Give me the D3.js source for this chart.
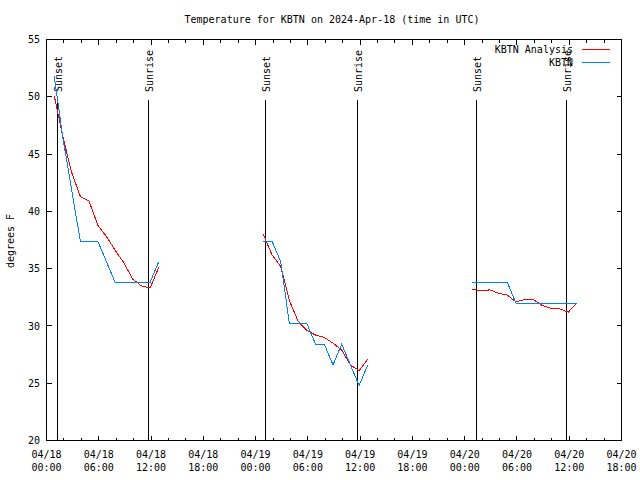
<!DOCTYPE html>
<html><head><meta charset="utf-8">
<script src="https://cdn.jsdelivr.net/npm/d3@7"></script>
<style>
html,body{margin:0;padding:0;background:#fff;}
svg{display:block;}
text{font-family:"DejaVu Sans Mono",monospace;font-size:10px;fill:#000;}
</style></head>
<body><svg id="c" width="640" height="480"></svg>
<script>
// ---- data ----
const title = "Temperature for KBTN on 2024-Apr-18 (time in UTC)";
const yLabel = "degrees F";
const seriesNames = ["KBTN Analysis", "KBTN"];
const segmentStarts = ["2024-04-18T00:53Z", "2024-04-19T00:53Z", "2024-04-20T00:53Z"]; // first hourly point of each block
const analysisSeg1 = [50.1, 46.5, 43.4, 41.3, 40.9, 38.8, 37.8, 36.6, 35.5, 34.1, 33.5, 33.3, 35.1];
const analysisSeg2 = [38.0, 36.2, 35.2, 32.2, 30.4, 29.6, 29.2, 29.0, 28.5, 27.9, 26.6, 26.1, 27.1];
const analysisSeg3 = [33.2, 33.05, 33.15, 32.85, 32.7, 32.1, 32.3, 32.3, 31.8, 31.55, 31.5, 31.2, 32.0];
const obsSeg1 = [51.8, 46.4, 41.9, 37.4, 37.4, 37.4, 35.6, 33.8, 33.8, 33.8, 33.8, 33.8, 35.6];
const obsSeg2 = [37.4, 37.4, 35.6, 30.2, 30.2, 30.2, 28.4, 28.4, 26.6, 28.4, 26.6, 24.8, 26.6];
const obsSeg3 = [33.8, 33.8, 33.8, 33.8, 33.8, 32.0, 32.0, 32.0, 32.0, 32.0, 32.0, 32.0, 32.0];
const sunsetTimes = ["2024-04-18T01:13Z", "2024-04-19T01:11Z", "2024-04-20T01:23Z"];
const sunriseTimes = ["2024-04-18T11:40Z", "2024-04-19T11:40Z", "2024-04-20T11:43Z"];
const xDomain = ["2024-04-18T00:00Z", "2024-04-20T18:00Z"];
const yDomain = [20, 55];
const yTicks = [20, 25, 30, 35, 40, 45, 50, 55];
const colors = ["#ff0000", "#0080ff"];

// ---- chart ----
const svg = d3.select("#c");
const L = 46.5, R = 621.5, T = 39.5, B = 440.5;
const parse = s => new Date(s);
const x = d3.scaleUtc().domain(xDomain.map(parse)).range([L, R]);
const y = d3.scaleLinear().domain(yDomain).range([B, T]);

function build(vals, segIdx) {
  const t0 = parse(segmentStarts[segIdx]);
  return vals.map((v, i) => ({t: d3.utcHour.offset(t0, i), v}));
}
const analysis = [analysisSeg1, analysisSeg2, analysisSeg3].map(build);
const obs = [obsSeg1, obsSeg2, obsSeg3].map(build);

// frame
svg.append("rect").attr("x", L).attr("y", T).attr("width", R - L).attr("height", B - T)
  .attr("fill", "none").attr("stroke", "#000").attr("shape-rendering", "crispEdges");

// x ticks (major every 6h, minor every 2h), on bottom and top
const majorX = d3.utcHour.every(6).range(x.domain()[0], d3.utcHour.offset(x.domain()[1], 1));
const minorX = d3.utcHour.every(2).range(x.domain()[0], d3.utcHour.offset(x.domain()[1], 1));
const tg = svg.append("g").attr("shape-rendering", "crispEdges").attr("stroke", "#000");
minorX.forEach(t => {
  const isMajor = t.getUTCHours() % 6 === 0;
  const len = isMajor ? 5 : 3;
  const px = Math.round(x(t) - 0.5) + 0.5;
  tg.append("line").attr("x1", px).attr("x2", px).attr("y1", B).attr("y2", B - len);
  tg.append("line").attr("x1", px).attr("x2", px).attr("y1", T).attr("y2", T + len);
});
// y ticks left and right
yTicks.forEach(v => {
  const py = Math.round(y(v) - 0.5) + 0.5;
  tg.append("line").attr("x1", L).attr("x2", L + 5).attr("y1", py).attr("y2", py);
  tg.append("line").attr("x1", R).attr("x2", R - 5).attr("y1", py).attr("y2", py);
});

// x tick labels
const fmtD = d3.utcFormat("%m/%d"), fmtT = d3.utcFormat("%H:%M");
const xl = svg.append("g");
majorX.forEach(t => {
  const txt = xl.append("text").attr("text-anchor", "middle");
  txt.append("tspan").attr("x", x(t)).attr("y", 458).text(fmtD(t));
  txt.append("tspan").attr("x", x(t)).attr("y", 471).text(fmtT(t));
});
// y tick labels
yTicks.forEach(v => {
  svg.append("text").attr("x", 40).attr("y", y(v)).attr("dy", "0.36em")
    .attr("text-anchor", "end").text(v);
});

// title & y label
svg.append("text").attr("x", 332).attr("y", 23).attr("text-anchor", "middle").text(title);
svg.append("text").attr("transform", "translate(14,241) rotate(-90)")
  .attr("text-anchor", "middle").text(yLabel);

// sunset / sunrise lines
function marker(ts, label) {
  ts.forEach(s => {
    const px = Math.round(x(parse(s)) - 0.5) + 0.5;
    svg.append("line").attr("x1", px).attr("x2", px).attr("y1", 100).attr("y2", B)
      .attr("stroke", "#000").attr("shape-rendering", "crispEdges");
    svg.append("text").attr("transform", `translate(${px + 4},92) rotate(-90)`)
      .attr("text-anchor", "start").text(label);
  });
}
marker(sunsetTimes, "Sunset");
marker(sunriseTimes, "Sunrise");

// series lines
const line = d3.line().x(d => x(d.t)).y(d => y(d.v));
[analysis, obs].forEach((segs, si) => {
  segs.forEach(seg => {
    svg.append("path").datum(seg).attr("d", line).attr("fill", "none")
      .attr("stroke", colors[si]).attr("stroke-width", 1)
      .attr("shape-rendering", "crispEdges");
  });
});

// legend
seriesNames.forEach((n, i) => {
  const ly = 49 + i * 13;
  svg.append("text").attr("x", 573).attr("y", ly).attr("dy", "0.36em")
    .attr("text-anchor", "end").text(n);
  svg.append("line").attr("x1", 582).attr("x2", 610).attr("y1", ly + 0.5).attr("y2", ly + 0.5)
    .attr("stroke", colors[i]).attr("shape-rendering", "crispEdges");
});
</script></body></html>
